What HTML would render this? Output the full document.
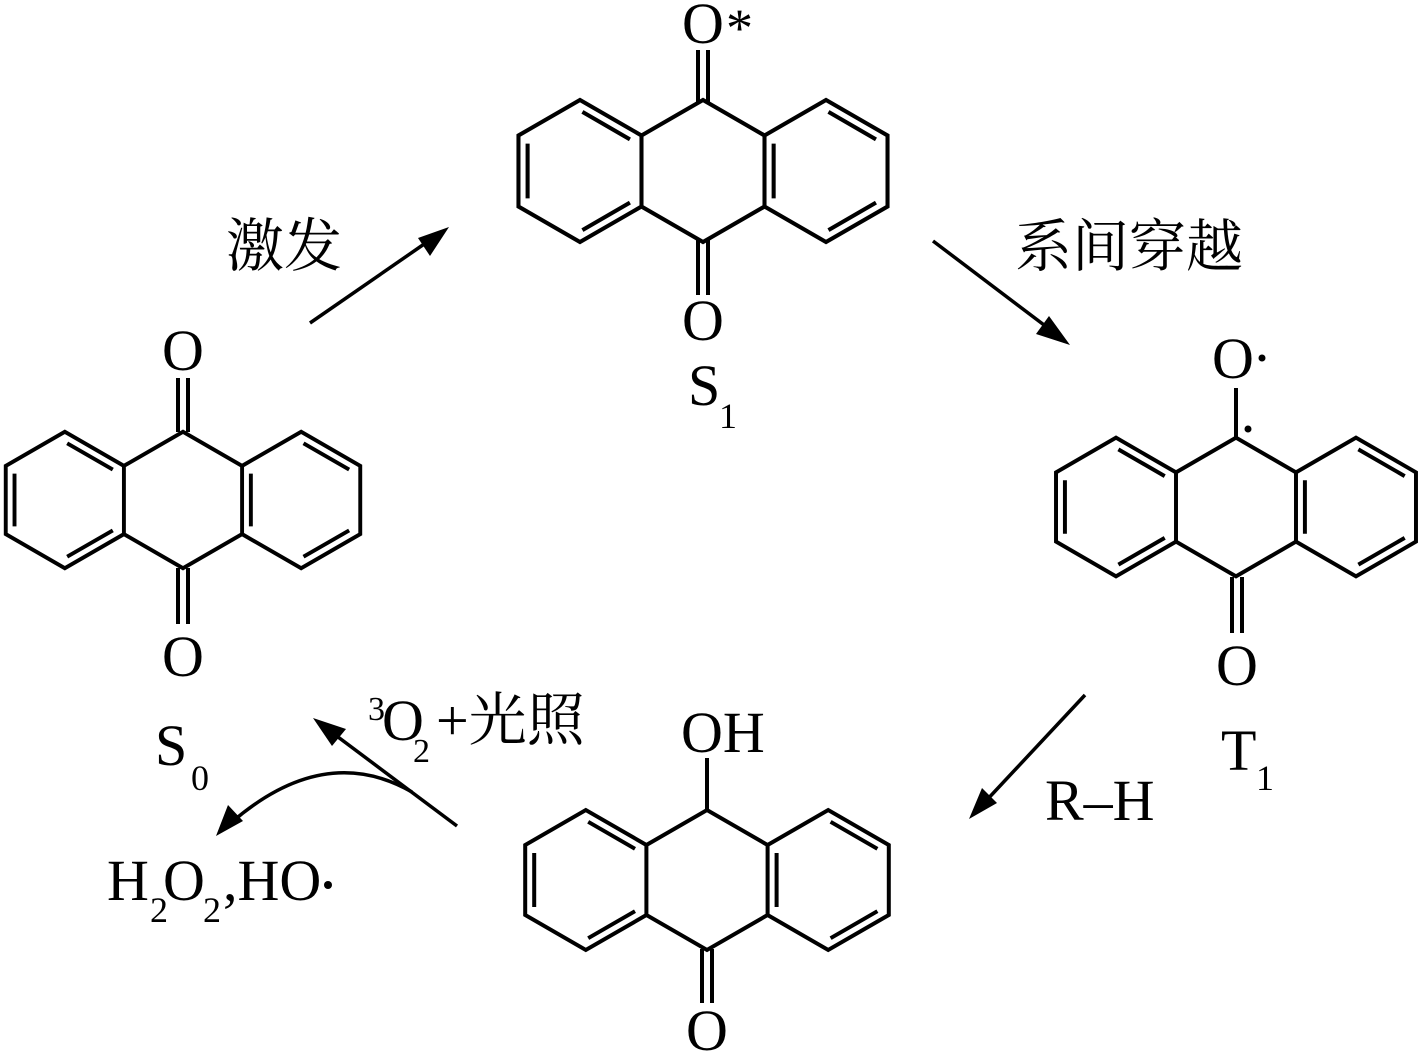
<!DOCTYPE html>
<html><head><meta charset="utf-8"><style>
html,body{margin:0;padding:0;background:#fff;}
svg{display:block;}
.t{font-family:"Liberation Serif","Noto Serif CJK SC",serif;fill:#000;}
.c{font-family:"Liberation Serif","Noto Serif CJK SC",serif;fill:#000;}
</style></head><body>
<svg width="1420" height="1053" viewBox="0 0 1420 1053" xmlns="http://www.w3.org/2000/svg">
<defs>
<g id="an" fill="none" stroke="#000" stroke-width="4" stroke-linejoin="miter">
<path d="M-60.6 -35 L-121.2 -70 L-181.8 -35 L-181.8 35 L-121.2 70 L-60.6 35"/>
<path d="M-60.6 -35 L0 -70 L60.6 -35 L60.6 35 L0 70 L-60.6 35 Z"/>
<path d="M60.6 -35 L121.2 -70 L181.8 -35 L181.8 35 L121.2 70 L60.6 35"/>
<path d="M-118.8 -58.2 L-72 -31.2 M-172.8 -27 L-172.8 27 M-118.8 58.2 L-72 31.2 M69.6 -27 L69.6 27 M123.6 -58.2 L170.4 -31.2 M123.6 58.2 L170.4 31.2"/>
</g>
</defs>

<!-- S0 -->
<use href="#an" transform="translate(183,500) scale(0.975)"/>
<g stroke="#000" stroke-width="4">
<line x1="178" y1="378" x2="178" y2="432"/><line x1="188" y1="378" x2="188" y2="432"/>
<line x1="178" y1="568" x2="178" y2="624"/><line x1="188" y1="568" x2="188" y2="624"/>
</g>
<text class="t" x="183" y="370" font-size="58" text-anchor="middle">O</text>
<text class="t" x="183" y="676" font-size="58" text-anchor="middle">O</text>

<!-- S1 -->
<use href="#an" transform="translate(703,171) scale(1.015)"/>
<g stroke="#000" stroke-width="4">
<line x1="698" y1="50" x2="698" y2="103"/><line x1="708" y1="50" x2="708" y2="103"/>
<line x1="698" y1="240" x2="698" y2="295"/><line x1="708" y1="240" x2="708" y2="295"/>
</g>
<text class="t" x="703" y="43" font-size="58" text-anchor="middle">O</text>
<text class="t" x="726" y="46" font-size="54">*</text>
<text class="t" x="688" y="405" font-size="58">S</text>
<text class="t" x="719" y="428" font-size="36">1</text>
<text class="t" x="703" y="340" font-size="58" text-anchor="middle">O</text>

<!-- T1 -->
<use href="#an" transform="translate(1236,507) scale(0.99)"/>
<g stroke="#000" stroke-width="4">
<line x1="1236" y1="388" x2="1236" y2="438"/>
<line x1="1232" y1="577" x2="1232" y2="633"/><line x1="1242" y1="577" x2="1242" y2="633"/>
</g>
<text class="t" x="1233" y="378" font-size="58" text-anchor="middle">O</text>
<circle cx="1262" cy="358" r="3.5"/>
<circle cx="1248" cy="429" r="3.5"/>
<text class="t" x="1237" y="685" font-size="58" text-anchor="middle">O</text>
<text class="t" x="1221" y="770" font-size="58">T</text>
<text class="t" x="1256" y="790" font-size="36">1</text>

<!-- bottom -->
<use href="#an" transform="translate(707,880) scale(1.0)"/>
<g stroke="#000" stroke-width="4">
<line x1="707" y1="758" x2="707" y2="812"/>
<line x1="702" y1="949" x2="702" y2="1003"/><line x1="712" y1="949" x2="712" y2="1003"/>
</g>
<text class="t" x="681" y="752" font-size="58">OH</text>
<text class="t" x="707" y="1050" font-size="58" text-anchor="middle">O</text>

<!-- arrows -->
<g stroke="#000" stroke-width="3.5" fill="none">
<line x1="310" y1="323" x2="430" y2="240"/>
<line x1="933" y1="241" x2="1052" y2="331"/>
<line x1="1085" y1="695" x2="984" y2="803"/>
<line x1="457" y1="826" x2="330" y2="731"/>
<path d="M412 792 Q325 742 232 822"/>
</g>
<g fill="#000">
<polygon points="449,227 430,256 418,238"/>
<polygon points="1070,345 1036,334 1049,316"/>
<polygon points="969,819 982,788 997,803"/>
<polygon points="313,718 346,729 332,746"/>
<polygon points="216,836 228,805 243,821"/>
</g>

<!-- labels -->
<text class="c" x="226" y="266" font-size="58">激发</text>
<text class="c" x="1015" y="266" font-size="57">系间穿越</text>
<text class="t" x="1045" y="820" font-size="58">R–H</text>
<text class="t" x="368" y="720" font-size="34">3</text>
<text class="t" x="382" y="740" font-size="58">O</text>
<text class="t" x="413" y="762" font-size="34">2</text>
<text class="c" x="436" y="740" font-size="58">+光照</text>
<text class="t" x="155" y="765" font-size="58">S</text>
<text class="t" x="191" y="790" font-size="36">0</text>
<text class="t" x="107" y="900" font-size="58">H</text>
<text class="t" x="150" y="922" font-size="36">2</text>
<text class="t" x="163" y="900" font-size="58">O</text>
<text class="t" x="203" y="922" font-size="36">2</text>
<text class="t" x="223" y="900" font-size="58">,HO</text>
<circle cx="328" cy="885" r="4"/>
</svg>
</body></html>
